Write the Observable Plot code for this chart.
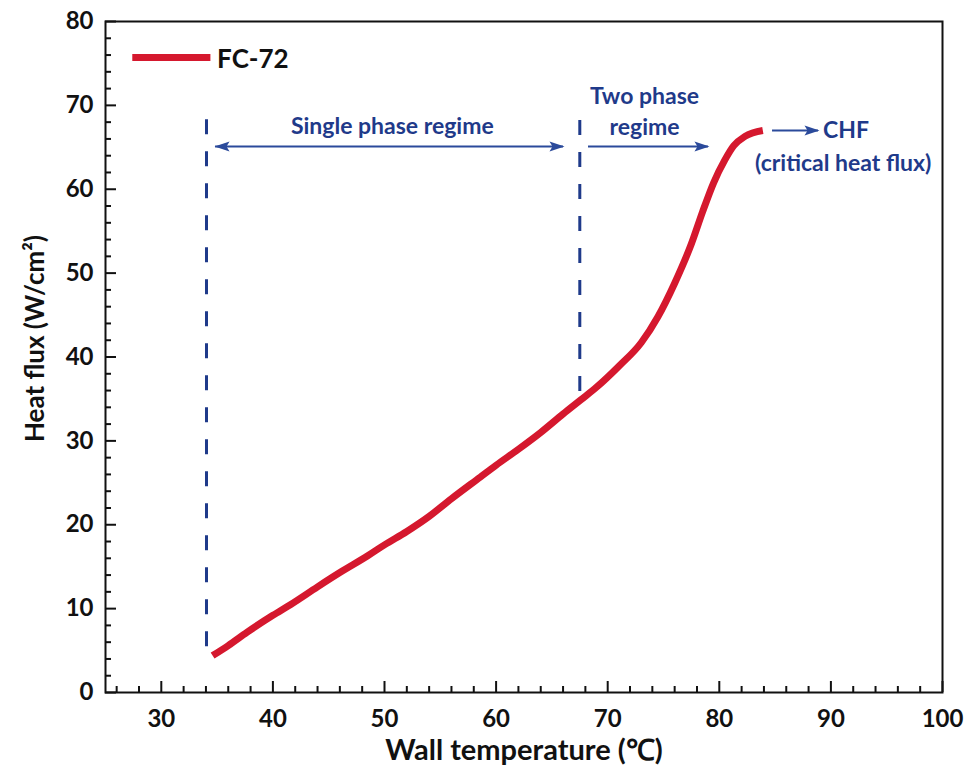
<!DOCTYPE html>
<html>
<head>
<meta charset="utf-8">
<script src="https://cdn.jsdelivr.net/npm/d3@7"></script>
<script src="https://cdn.jsdelivr.net/npm/@observablehq/plot@0.6"></script>
<style>
  html, body { margin: 0; padding: 0; background: #fff; }
  #chart svg { display: block; font-family: Lato, "Open Sans", sans-serif; }
</style>
</head>
<body>
<div id="chart"></div>
<script>
// Curve: wall temperature (°C) vs heat flux (W/cm²), FC-72
const wallTemp = [34.6, 36, 37.7, 40, 41.6, 44, 46, 48.5, 50, 52, 54, 56, 58.6, 60, 62, 64, 66, 67.6, 69, 71, 73, 74.5, 76, 77.5, 78.5, 79.5, 80.5, 81.3, 82.3, 83.9];
const heatFlux = [4.4, 5.6, 7.2, 9.2, 10.5, 12.6, 14.3, 16.3, 17.6, 19.2, 21.0, 23.1, 25.7, 27.1, 29.0, 31.0, 33.2, 34.9, 36.4, 38.9, 41.7, 44.8, 48.8, 53.5, 57.3, 60.8, 63.5, 65.2, 66.3, 67.0];

// Axes
const xDomain = [25, 100];
const yDomain = [0, 80];
const xMajor = [30, 40, 50, 60, 70, 80, 90, 100];
const xMinor = [26, 28, 32, 34, 36, 38, 42, 44, 46, 48, 52, 54, 56, 58, 62, 64, 66, 68, 72, 74, 76, 78, 82, 84, 86, 88, 92, 94, 96, 98];
const yMajor = [0, 10, 20, 30, 40, 50, 60, 70, 80];
const yMinor = [2, 4, 6, 8, 12, 14, 16, 18, 22, 24, 26, 28, 32, 34, 36, 38, 42, 44, 46, 48, 52, 54, 56, 58, 62, 64, 66, 68, 72, 74, 76, 78];
const xTitle = [{x: 62.5, y: -6.9, text: "Wall temperature (\u2103)"}];
const yTitle = [{x: 18.7, y: 42.2, text: "Heat flux (W/cm\u00B2)"}];

// Legend
const seriesName = "FC-72";
const legendLine = [{x: 27.4, y: 75.7}, {x: 34.4, y: 75.7}];
const legendText = [{x: 35.0, y: 75.4, text: seriesName}];

// Regime boundaries (dashed)
const boundaries = [
  {x: 34.05, top: 68.3, bottom: 5.4},
  {x: 67.5, top: 68.2, bottom: 35.3}
];

// Arrows (tail -> head)
const arrowLines = [
  {x1: 34.86, x2: 66.04, y: 65.1},
  {x1: 68.28, x2: 79.03, y: 65.1},
  {x1: 84.77, x2: 88.89, y: 67.0}
];
const arrowHeadsRight = [{x: 66.04, y: 65.1}, {x: 79.03, y: 65.1}, {x: 88.89, y: 67.0}];
const arrowHeadsLeft = [{x: 34.86, y: 65.1}];

// Annotation texts
const notesCentered = [
  {x: 50.7, y: 67.5, text: "Single phase regime"},
  {x: 73.3, y: 71.1, text: "Two phase"},
  {x: 73.3, y: 67.3, text: "regime"},
  {x: 91.1, y: 63.0, text: "(critical heat flux)"}
];
const notesStart = [
  {x: 89.3, y: 67.0, text: "CHF"}
];

const curve = wallTemp.map((t, i) => ({t, q: heatFlux[i]}));

const red = "#D5182E";
const navy = "#1F3A8A";
const arrowBlue = "#2B4A9B";
const ink = "#111";

// filled arrowhead whose tip is at the origin, pointing right
const arrowHead = {
  draw(context) {
    context.moveTo(1, 0);
    context.lineTo(-14, -5);
    context.lineTo(-11, 0);
    context.lineTo(-14, 5);
    context.closePath();
  }
};

const chart = Plot.plot({
  width: 966,
  height: 765,
  marginLeft: 105,
  marginRight: 24,
  marginTop: 21,
  marginBottom: 73,
  x: {domain: xDomain},
  y: {domain: yDomain},
  style: {fontFamily: "Lato, 'Open Sans', sans-serif", background: "#fff", color: ink},
  marks: [
    // inward ticks
    Plot.axisX({ticks: xMajor, tickSize: 11, dy: -11, tickFormat: () => "", strokeWidth: 2, stroke: ink}),
    Plot.axisX({ticks: xMinor, tickSize: 6, dy: -6, tickFormat: () => "", strokeWidth: 2, stroke: ink}),
    Plot.axisY({ticks: yMajor, tickSize: 11, dx: 11, tickFormat: () => "", strokeWidth: 2, stroke: ink}),
    Plot.axisY({ticks: yMinor, tickSize: 6, dx: 6, tickFormat: () => "", strokeWidth: 2, stroke: ink}),
    // tick labels
    Plot.axisX({ticks: xMajor, tickSize: 0, tickPadding: 17, label: null, fontSize: 24, fontWeight: "bold", fill: ink, tickFormat: d => String(d)}),
    Plot.axisY({ticks: yMajor, tickSize: 0, tickPadding: 12, label: null, fontSize: 24, fontWeight: "bold", fill: ink, tickFormat: d => String(d)}),
    Plot.frame({stroke: ink, strokeWidth: 2}),
    // axis titles
    Plot.text(xTitle, {x: "x", y: "y", text: "text", fontSize: 29, fontWeight: "bold", fill: ink}),
    Plot.text(yTitle, {x: "x", y: "y", text: "text", rotate: -90, fontSize: 26, fontWeight: "bold", fill: ink}),
    // dashed regime boundaries
    Plot.ruleX(boundaries, {x: "x", y1: "top", y2: "bottom", stroke: navy, strokeWidth: 3, strokeDasharray: "15,17"}),
    // arrows
    Plot.ruleY(arrowLines, {y: "y", x1: "x1", x2: "x2", stroke: arrowBlue, strokeWidth: 2}),
    Plot.dot(arrowHeadsRight, {x: "x", y: "y", symbol: arrowHead, r: 5, fill: arrowBlue, stroke: "none"}),
    Plot.dot(arrowHeadsLeft, {x: "x", y: "y", symbol: arrowHead, r: 5, rotate: 180, fill: arrowBlue, stroke: "none"}),
    // annotations
    Plot.text(notesCentered, {x: "x", y: "y", text: "text", textAnchor: "middle", fontSize: 23, fontWeight: "bold", fill: navy}),
    Plot.text(notesStart, {x: "x", y: "y", text: "text", textAnchor: "start", fontSize: 23, fontWeight: "bold", fill: navy}),
    // legend
    Plot.line(legendLine, {x: "x", y: "y", stroke: red, strokeWidth: 7, strokeLinecap: "butt"}),
    Plot.text(legendText, {x: "x", y: "y", text: "text", textAnchor: "start", fontSize: 26, fontWeight: "bold", fill: ink}),
    // curve
    Plot.line(curve, {x: "t", y: "q", stroke: red, strokeWidth: 7, strokeLinecap: "butt", curve: "monotone-x"})
  ]
});
document.getElementById("chart").appendChild(chart);
</script>
</body>
</html>
